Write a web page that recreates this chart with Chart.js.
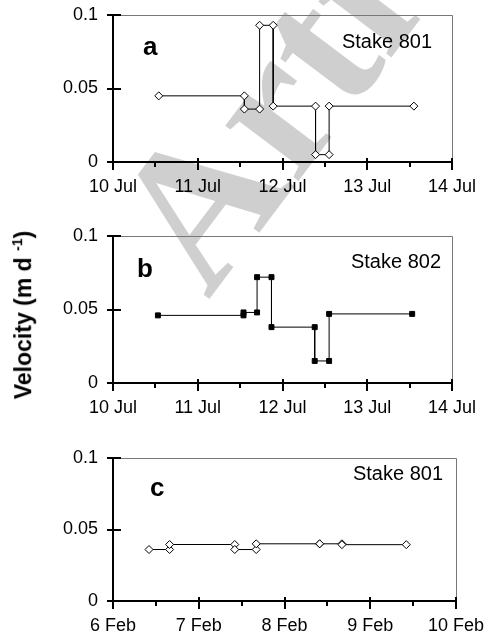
<!DOCTYPE html>
<html>
<head>
<meta charset="utf-8">
<script src="https://cdn.jsdelivr.net/npm/chart.js@4/dist/chart.umd.min.js"></script>
<style>
  body { margin: 0; background: #fff; }
  #page { position: relative; width: 485px; height: 639px; overflow: hidden; }
  .panel { position: absolute; left: 0; width: 485px; }
  #mark {
    position: absolute; left: 75px; top: 200px;
    font: bold 200px "Liberation Serif", serif; color: rgba(0,0,0,0.19);
    transform-origin: 0 0; transform: rotate(-53deg); white-space: nowrap;
    line-height: 1;
  }
  #ytitle {
    position: absolute; left: 23px; top: 315px;
    transform: translate(-50%, -50%) rotate(-90deg);
    font: bold 23px "Liberation Sans", Arial, sans-serif; white-space: nowrap;
  }
  #ytitle sup { font-size: 14px; }
</style>
</head>
<body>
<div id="page">
  <div id="mark">Article</div>
  <div class="panel" style="top:0;height:210px"><canvas id="chartA"></canvas></div>
  <div class="panel" style="top:220px;height:210px"><canvas id="chartB"></canvas></div>
  <div class="panel" style="top:440px;height:199px"><canvas id="chartC"></canvas></div>
  <div id="ytitle">Velocity (m d <sup>-1</sup>)</div>
</div>
<script>
// survey intervals: start day, end day, mean velocity (m/d)
const julStart801 = [10.54, 11.55, 11.73, 11.89, 12.39, 12.55];
const julEnd801   = [11.55, 11.73, 11.89, 12.39, 12.55, 13.55];
const julVel801   = [0.045, 0.036, 0.093, 0.038, 0.005, 0.038];

const julStart802 = [10.53, 11.54, 11.70, 11.87, 12.38, 12.55];
const julEnd802   = [11.54, 11.70, 11.87, 12.38, 12.55, 13.53];
const julVel802   = [0.046, 0.048, 0.072, 0.038, 0.015, 0.047];

const febStart801 = [6.42, 6.66, 7.42, 7.67, 8.41, 8.67];
const febEnd801   = [6.66, 7.42, 7.67, 8.41, 8.67, 9.42];
const febVel801   = [0.036, 0.0395, 0.036, 0.040, 0.040, 0.0394];

const yTickLabels = ['0', '0.05', '0.1'];

function steps(start, end, vel){
  let pts = [];
  for(let i = 0; i < vel.length; i++){
    pts.push({x: start[i], y: vel[i]});
    pts.push({x: end[i], y: vel[i]});
  }
  return pts;
}

// grey top/right frame, crossing tick marks and the panel captions
const panelDeco = {
  id: 'panelDeco',
  afterDraw(chart, args, opts){
    const ctx = chart.ctx;
    const a = chart.chartArea;
    const x = chart.scales.x, y = chart.scales.y;
    ctx.save();
    ctx.strokeStyle = '#777';
    ctx.lineWidth = 1;
    ctx.beginPath();
    ctx.moveTo(a.left, a.top + 0.5);
    ctx.lineTo(a.right + 0.5, a.top + 0.5);
    ctx.lineTo(a.right + 0.5, a.bottom);
    ctx.stroke();

    ctx.strokeStyle = '#000';
    ctx.lineWidth = 2;
    ctx.beginPath();
    for(let v = x.min; v <= x.max + 1e-9; v += 0.5){
      const px = Math.round(x.getPixelForValue(v));
      const major = Math.abs(v - Math.round(v)) < 1e-9;
      ctx.moveTo(px, a.bottom - (major ? 4 : 0));
      ctx.lineTo(px, a.bottom + (major ? 8 : 5));
    }
    y.ticks.forEach(t => {
      const py = Math.round(y.getPixelForValue(t.value));
      ctx.moveTo(a.left - 6, py);
      ctx.lineTo(a.left + 8, py);
    });
    ctx.stroke();

    ctx.fillStyle = '#000';
    ctx.textBaseline = 'alphabetic';
    ctx.textAlign = 'left';
    ctx.font = 'bold 26px "Liberation Sans", Arial, sans-serif';
    ctx.fillText(opts.letter, a.left + opts.letterX, a.top + opts.letterY);
    ctx.textAlign = 'right';
    ctx.font = '20px "Liberation Sans", Arial, sans-serif';
    ctx.fillText(opts.stake, a.right + opts.stakeX, a.top + opts.stakeY);
    ctx.restore();
  }
};

function makePanel(id, pts, month, xMin, style, deco){
  const ctx = document.getElementById(id).getContext('2d');
  const filled = style === 'square';
  return new Chart(ctx, {
    type: 'line',
    data: {
      datasets: [{
        data: pts,
        borderColor: '#000',
        borderWidth: 1,
        tension: 0,
        pointStyle: filled ? 'rect' : 'rectRot',
        pointRadius: filled ? 3.5 : 4,
        pointBackgroundColor: filled ? '#000' : '#fff',
        pointBorderColor: '#000',
        pointBorderWidth: 1,
        clip: false
      }]
    },
    options: {
      responsive: true,
      maintainAspectRatio: false,
      animation: false,
      layout: { padding: { left: 0, right: deco.padRight, top: deco.padTop, bottom: 0 } },
      plugins: { legend: { display: false }, tooltip: { enabled: false }, panelDeco: deco },
      scales: {
        x: {
          type: 'linear',
          min: xMin,
          max: xMin + 4,
          grid: { display: false, drawTicks: false },
          border: { display: true, color: '#000', width: 2 },
          ticks: {
            stepSize: 1,
            padding: 14,
            color: '#000',
            font: { family: '"Liberation Sans", Arial, sans-serif', size: 18 },
            maxRotation: 0,
            callback: v => v + ' ' + month
          },
          afterFit: s => { s.height = deco.xHeight; s.paddingLeft = 0; s.paddingRight = 0; }
        },
        y: {
          min: 0,
          max: 0.1,
          grid: { display: false, drawTicks: false },
          border: { display: true, color: '#000', width: 2 },
          ticks: {
            stepSize: 0.05,
            padding: 15,
            color: '#000',
            font: { family: '"Liberation Sans", Arial, sans-serif', size: 18 },
            callback: (v, i) => yTickLabels[i]
          },
          afterFit: s => { s.width = 113; s.paddingTop = 0; s.paddingBottom = 0; }
        }
      }
    },
    plugins: [panelDeco]
  });
}

makePanel('chartA', steps(julStart801, julEnd801, julVel801), 'Jul', 10, 'diamond',
  { letter: 'a', stake: 'Stake 801', letterX: 30, letterY: 40, stakeX: -20, stakeY: 33, padTop: 15, padRight: 33, xHeight: 48 });
makePanel('chartB', steps(julStart802, julEnd802, julVel802), 'Jul', 10, 'square',
  { letter: 'b', stake: 'Stake 802', letterX: 24, letterY: 41, stakeX: -11, stakeY: 32, padTop: 16, padRight: 33, xHeight: 47 });
makePanel('chartC', steps(febStart801, febEnd801, febVel801), 'Feb', 6, 'diamond',
  { letter: 'c', stake: 'Stake 801', letterX: 37, letterY: 38, stakeX: -13, stakeY: 22, padTop: 18, padRight: 29, xHeight: 38 });
</script>
</body>
</html>
